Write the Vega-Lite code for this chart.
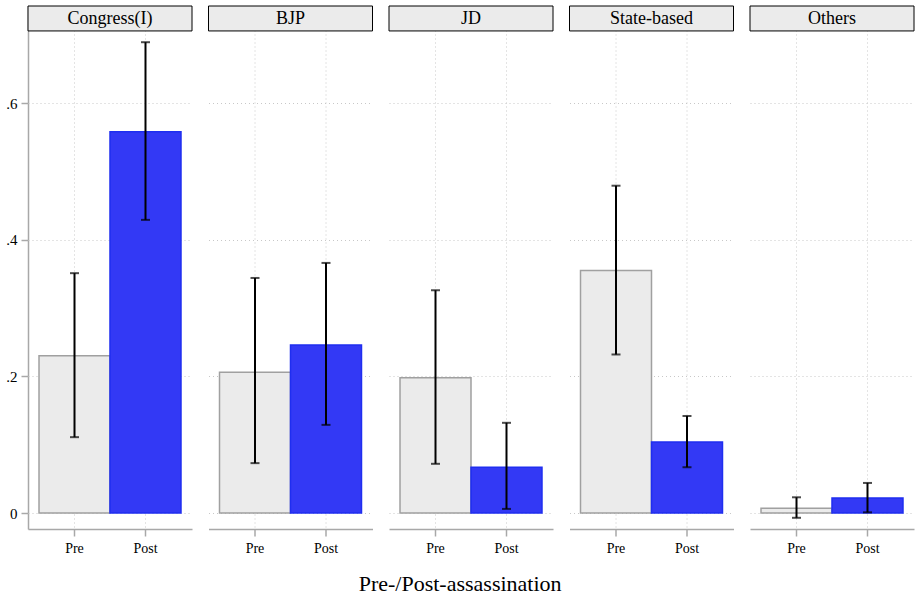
{
  "$schema": "https://vega.github.io/schema/vega-lite/v6.json",
  "padding": 5,
  "background": "white",
  "bounds": "flush",
  "title": {
    "text": "Pre-/Post-assassination",
    "orient": "bottom",
    "anchor": "middle",
    "frame": "bounds",
    "font": "Liberation Serif",
    "fontSize": 22,
    "fontWeight": "normal",
    "color": "black",
    "offset": 19
  },
  "data": {
    "values": [
      {"party": "Congress(I)", "period": "Pre", "mean": 0.230, "lo": 0.111, "hi": 0.351},
      {"party": "Congress(I)", "period": "Post", "mean": 0.558, "lo": 0.429, "hi": 0.689},
      {"party": "BJP", "period": "Pre", "mean": 0.206, "lo": 0.073, "hi": 0.344},
      {"party": "BJP", "period": "Post", "mean": 0.246, "lo": 0.129, "hi": 0.366},
      {"party": "JD", "period": "Pre", "mean": 0.198, "lo": 0.072, "hi": 0.326},
      {"party": "JD", "period": "Post", "mean": 0.067, "lo": 0.006, "hi": 0.132},
      {"party": "State-based", "period": "Pre", "mean": 0.355, "lo": 0.232, "hi": 0.479},
      {"party": "State-based", "period": "Post", "mean": 0.104, "lo": 0.067, "hi": 0.142},
      {"party": "Others", "period": "Pre", "mean": 0.007, "lo": -0.007, "hi": 0.023},
      {"party": "Others", "period": "Post", "mean": 0.022, "lo": 0.001, "hi": 0.044}
    ]
  },
  "facet": {
    "column": {
      "field": "party",
      "type": "nominal",
      "sort": ["Congress(I)", "BJP", "JD", "State-based", "Others"],
      "header": {"labels": false, "title": null}
    }
  },
  "spacing": 16.5,
  "spec": {
    "width": 164,
    "height": 523,
    "layer": [
      {
        "mark": {"type": "bar", "strokeWidth": 1.5},
        "encoding": {
          "x": {
            "field": "period", "type": "nominal", "sort": ["Pre", "Post"],
            "scale": {"paddingInner": 0, "paddingOuter": 0.155},
            "axis": {
              "title": null, "labelAngle": 0, "grid": true, "gridDash": [1, 3], "gridColor": "#c8c8c8",
              "domainColor": "#a8a8a8", "domainWidth": 1.5, "tickColor": "#a8a8a8", "tickWidth": 1.5, "tickSize": 7,
              "labelFont": "Liberation Serif", "labelFontSize": 14, "labelColor": "black", "labelPadding": 5
            }
          },
          "y": {
            "field": "mean", "type": "quantitative",
            "scale": {"domain": [-0.0234, 0.742], "nice": false, "zero": false},
            "axis": {
              "title": null, "values": [0, 0.2, 0.4, 0.6],
              "labelExpr": "datum.value == 0 ? '0' : '.' + round(datum.value * 10)",
              "grid": true, "gridDash": [1, 3], "gridColor": "#c8c8c8",
              "domainColor": "#a8a8a8", "domainWidth": 1.5, "tickColor": "#a8a8a8", "tickWidth": 1.5, "tickSize": 7,
              "labelFont": "Liberation Serif", "labelFontSize": 15, "labelColor": "black", "labelPadding": 4
            }
          },
          "fill": {
            "field": "period", "type": "nominal",
            "scale": {"domain": ["Pre", "Post"], "range": ["#ebebeb", "#3339f5"]},
            "legend": null
          },
          "stroke": {
            "field": "period", "type": "nominal",
            "scale": {"domain": ["Pre", "Post"], "range": ["#a0a0a0", "#1f2ef0"]},
            "legend": null
          }
        }
      },
      {
        "mark": {"type": "rule", "color": "black", "strokeWidth": 2},
        "encoding": {
          "x": {"field": "period", "type": "nominal", "sort": ["Pre", "Post"]},
          "y": {"field": "lo", "type": "quantitative"},
          "y2": {"field": "hi"}
        }
      },
      {
        "mark": {"type": "tick", "color": "black", "size": 9, "thickness": 2, "orient": "horizontal"},
        "encoding": {
          "x": {"field": "period", "type": "nominal", "sort": ["Pre", "Post"]},
          "y": {"field": "lo", "type": "quantitative"}
        }
      },
      {
        "mark": {"type": "tick", "color": "black", "size": 9, "thickness": 2, "orient": "horizontal"},
        "encoding": {
          "x": {"field": "period", "type": "nominal", "sort": ["Pre", "Post"]},
          "y": {"field": "hi", "type": "quantitative"}
        }
      },
      {
        "transform": [{"filter": "datum.period == 'Pre'"}],
        "mark": {"type": "rect", "fill": "#ebebeb", "stroke": "black", "strokeWidth": 1},
        "encoding": {
          "y": {"datum": 0.742, "type": "quantitative"},
          "y2": {"datum": 0.7055}
        }
      },
      {
        "transform": [{"filter": "datum.period == 'Pre'"}],
        "mark": {"type": "text", "font": "Liberation Serif", "fontSize": 18, "color": "black", "baseline": "middle", "align": "center"},
        "encoding": {
          "y": {"datum": 0.7235, "type": "quantitative"},
          "text": {"field": "party"}
        }
      }
    ]
  },
  "config": {
    "view": {"stroke": null}
  }
}
